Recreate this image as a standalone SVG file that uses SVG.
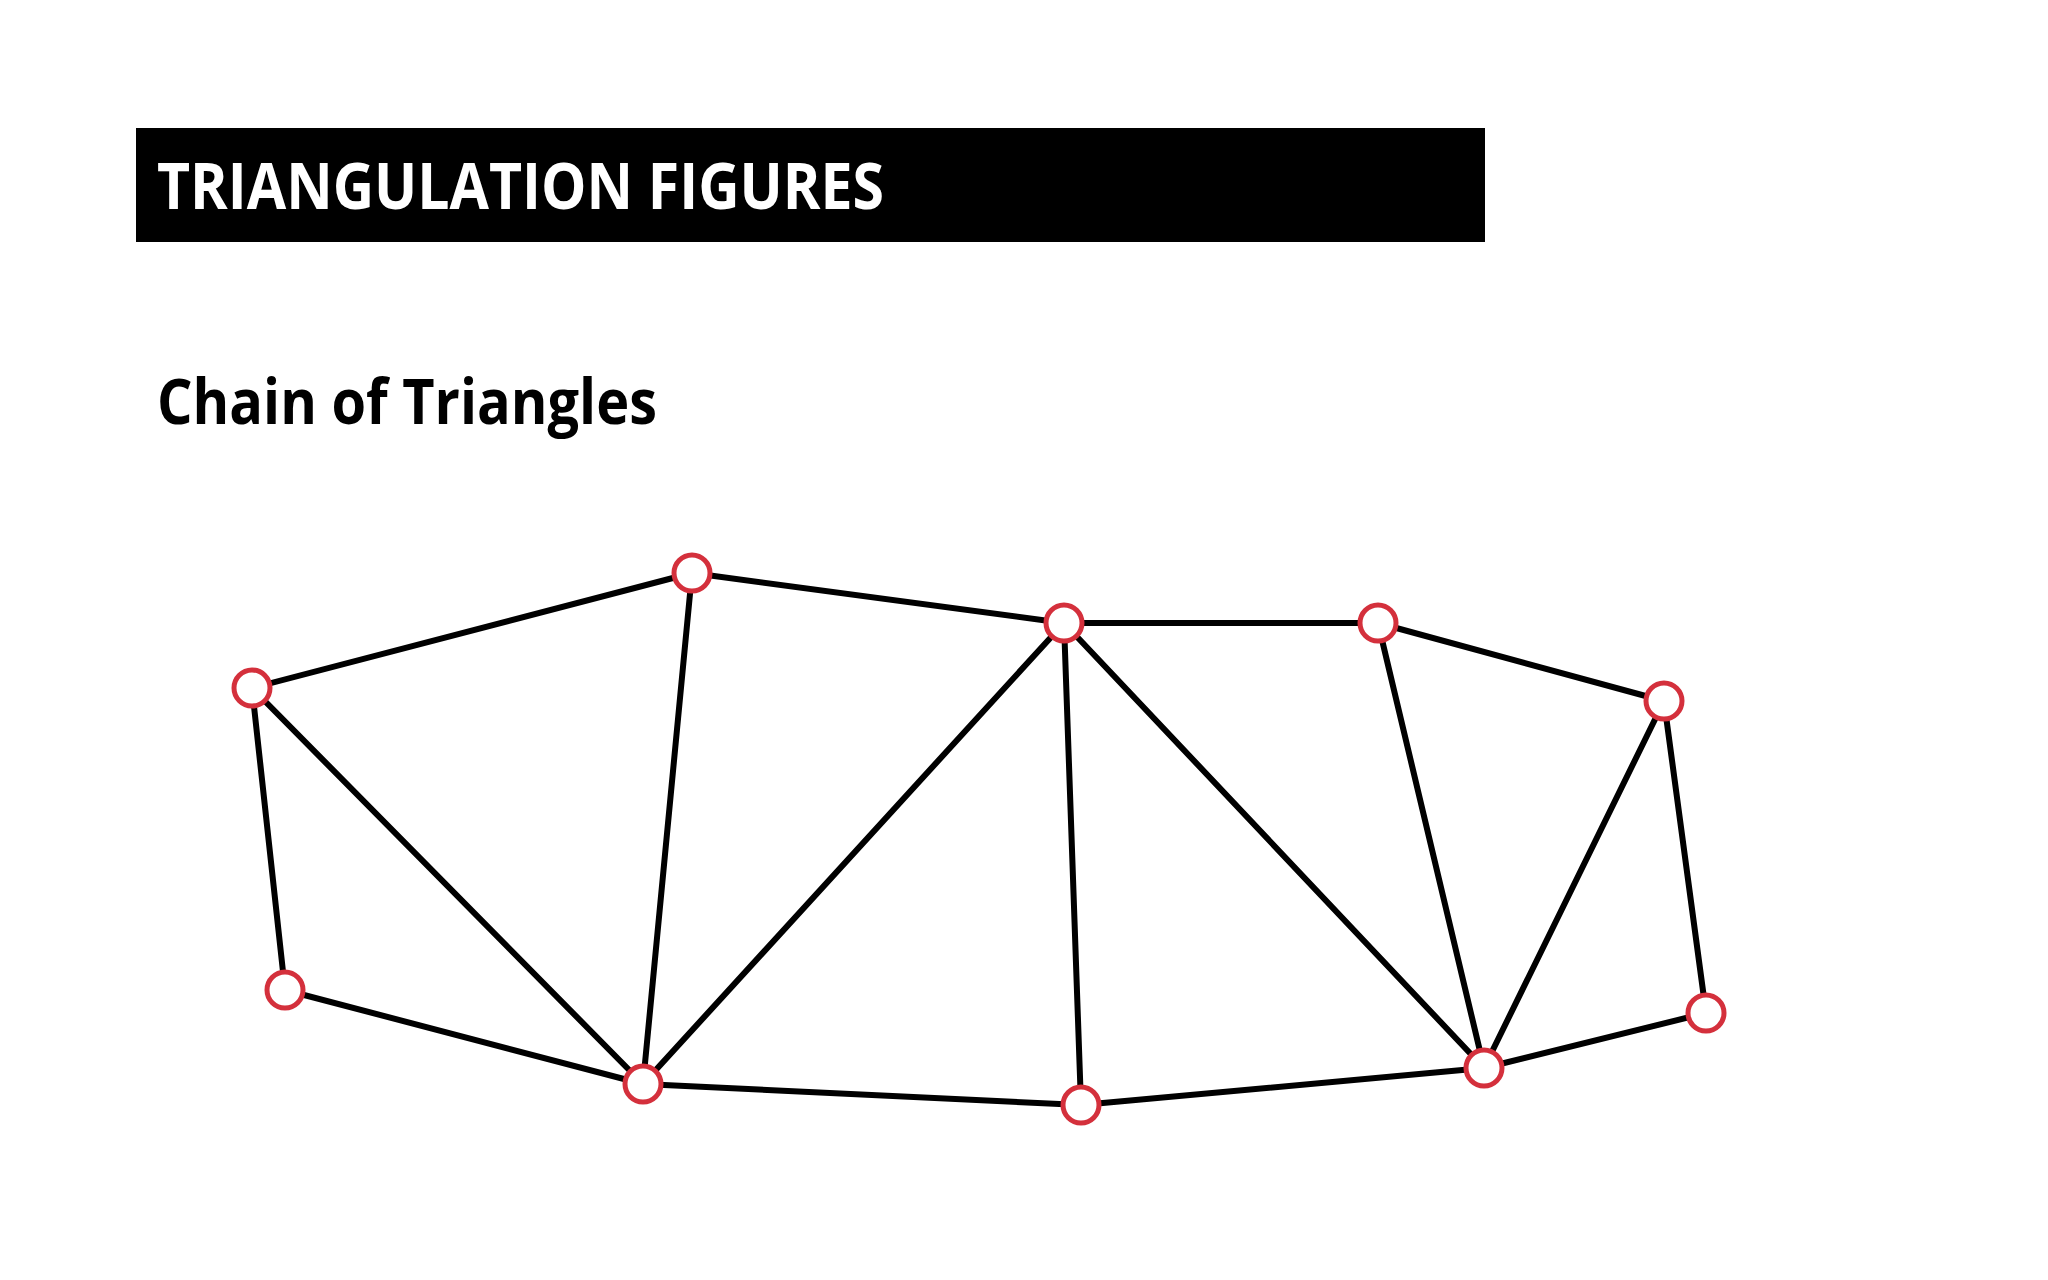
<svg xmlns="http://www.w3.org/2000/svg" width="2048" height="1280" viewBox="0 0 2048 1280">
<style>
.edge{stroke:#000;stroke-width:6;stroke-linecap:round}
.node{fill:#fff;stroke:#d4303c;stroke-width:5}
.title{font-family:"Open Sans","Liberation Sans",sans-serif;font-weight:bold;fill:#fff}
.sub{font-family:"Open Sans","Liberation Sans",sans-serif;font-weight:bold;fill:#000}
</style>
<rect width="2048" height="1280" fill="#fff"/>
<g id="header">
<rect x="136" y="128" width="1349" height="114" fill="#000"/>
<text class="title" x="157" y="209" font-size="64" textLength="727" lengthAdjust="spacingAndGlyphs">TRIANGULATION FIGURES</text>
</g>
<g id="subtitle">
<text class="sub" x="157" y="424" font-size="62" textLength="500" lengthAdjust="spacingAndGlyphs">Chain of Triangles</text>
</g>
<g id="connectors">
<line class="edge" x1="252" y1="688" x2="692" y2="573"/>
<line class="edge" x1="692" y1="573" x2="1064" y2="623"/>
<line class="edge" x1="1064" y1="623" x2="1378" y2="623"/>
<line class="edge" x1="1378" y1="623" x2="1664" y2="701"/>
<line class="edge" x1="252" y1="688" x2="285" y2="990"/>
<line class="edge" x1="252" y1="688" x2="643" y2="1084"/>
<line class="edge" x1="692" y1="573" x2="643" y2="1084"/>
<line class="edge" x1="643" y1="1084" x2="1064" y2="623"/>
<line class="edge" x1="1064" y1="623" x2="1081" y2="1105"/>
<line class="edge" x1="1064" y1="623" x2="1484" y2="1068"/>
<line class="edge" x1="1378" y1="623" x2="1484" y2="1068"/>
<line class="edge" x1="1664" y1="701" x2="1484" y2="1068"/>
<line class="edge" x1="1664" y1="701" x2="1706" y2="1013"/>
<line class="edge" x1="285" y1="990" x2="643" y2="1084"/>
<line class="edge" x1="643" y1="1084" x2="1081" y2="1105"/>
<line class="edge" x1="1081" y1="1105" x2="1484" y2="1068"/>
<line class="edge" x1="1484" y1="1068" x2="1706" y2="1013"/>
</g>
<g id="nA"><circle class="node" cx="252" cy="688" r="18"/></g>
<g id="nB"><circle class="node" cx="692" cy="573" r="18"/></g>
<g id="nC"><circle class="node" cx="1064" cy="623" r="18"/></g>
<g id="nD"><circle class="node" cx="1378" cy="623" r="18"/></g>
<g id="nE"><circle class="node" cx="1664" cy="701" r="18"/></g>
<g id="nF"><circle class="node" cx="285" cy="990" r="18"/></g>
<g id="nG"><circle class="node" cx="643" cy="1084" r="18"/></g>
<g id="nH"><circle class="node" cx="1081" cy="1105" r="18"/></g>
<g id="nI"><circle class="node" cx="1484" cy="1068" r="18"/></g>
<g id="nJ"><circle class="node" cx="1706" cy="1013" r="18"/></g>
</svg>
